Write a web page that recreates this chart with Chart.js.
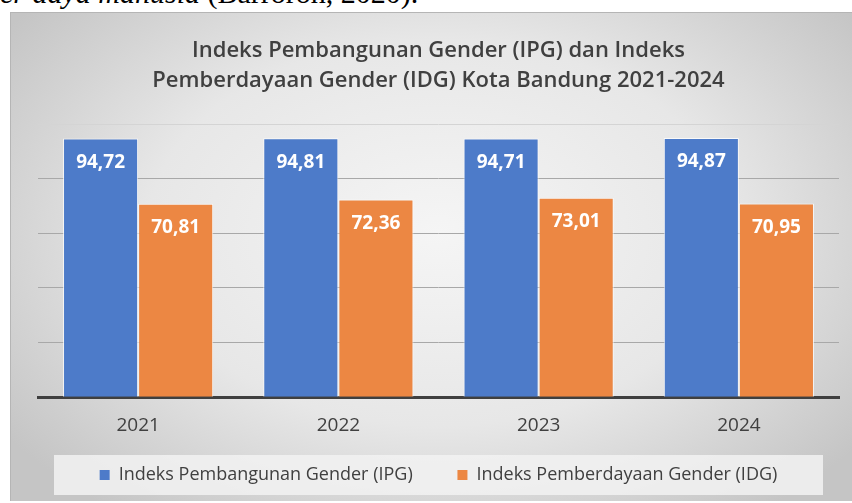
<!DOCTYPE html>
<html>
<head>
<meta charset="utf-8">
<script src="https://cdn.jsdelivr.net/npm/chart.js@4/dist/chart.umd.min.js"></script>
<style>
  html, body { margin: 0; padding: 0; background: #ffffff; width: 852px; height: 503px; overflow: hidden; position: relative; }
  #topText { position: absolute; left: 0; top: -24px; font-family: "Liberation Serif", "DejaVu Serif", serif; font-size: 30px; color: #000; white-space: nowrap; line-height: 34px; }
  #box { position: absolute; left: 10px; top: 12px; width: 855px; height: 489px;
         background: radial-gradient(ellipse 62% 72% at 50% 45%, #f5f5f5 0%, #e7e7e7 55%, #c5c5c5 100%);
         border-top: 1px solid #b5b5b5; border-left: 1px solid #b5b5b5; box-sizing: border-box; }
  #wrap { position: absolute; left: 0; top: 0; width: 855px; height: 489px; }
</style>
</head>
<body>
<div id="topText"><i>er daya manusia</i> (Barroroh, 2020).</div>
<div id="box"><div id="wrap"><canvas id="c"></canvas></div></div>
<script>
const titleLines = ["Indeks Pembangunan Gender (IPG) dan Indeks", "Pemberdayaan Gender (IDG) Kota Bandung 2021-2024"];
const years = ["2021", "2022", "2023", "2024"];
const ipgValues = [94.72, 94.81, 94.71, 94.87];
const idgValues = [70.81, 72.36, 73.01, 70.95];
const seriesNames = ["Indeks Pembangunan Gender (IPG)", "Indeks Pemberdayaan Gender (IDG)"];

const FONT = "'Open Sans', Lato, sans-serif";

const legendBg = {
  id: 'legendBg',
  beforeDraw(chart) {
    const lg = chart.legend, ca = chart.chartArea, ctx = chart.ctx;
    if (!lg || !lg.legendHitBoxes || !lg.legendHitBoxes.length) return;
    const hb = lg.legendHitBoxes[0];
    const cy = hb.top + hb.height / 2;
    const inset = 16;
    ctx.save();
    ctx.fillStyle = 'rgba(242,242,242,0.85)';
    ctx.fillRect(ca.left + inset, cy - 20, (ca.right - ca.left) - 2 * inset, 40);
    ctx.restore();
  }
};

const valueLabels = {
  id: 'valueLabels',
  afterDatasetsDraw(chart) {
    const ctx = chart.ctx;
    ctx.save();
    ctx.font = "bold 19px " + FONT;
    ctx.fillStyle = '#ffffff';
    ctx.textAlign = 'center';
    ctx.textBaseline = 'middle';
    chart.data.datasets.forEach((ds, di) => {
      chart.getDatasetMeta(di).data.forEach((el, i) => {
        const txt = ds.data[i].toFixed(2).replace('.', ',');
        ctx.fillText(txt, el.x, el.y + 24);
      });
    });
    ctx.restore();
  }
};

new Chart(document.getElementById('c'), {
  type: 'bar',
  data: {
    labels: years,
    datasets: [
      { label: seriesNames[0], data: ipgValues, backgroundColor: '#4d7bc9', borderColor: 'rgba(255,255,255,0.75)', borderWidth: 1 },
      { label: seriesNames[1], data: idgValues, backgroundColor: '#ec8743', borderColor: 'rgba(255,255,255,0.75)', borderWidth: 1 }
    ]
  },
  options: {
    responsive: true,
    maintainAspectRatio: false,
    animation: false,
    layout: { padding: { left: 27, right: 27, top: 0, bottom: 8 } },
    datasets: { bar: { categoryPercentage: 0.75, barPercentage: 1.0 } },
    scales: {
      x: {
        grid: { display: false, drawTicks: false },
        border: { display: true, color: '#3f3f3f', width: 3 },
        ticks: { color: '#404040', font: { family: FONT, size: 19, lineHeight: 1.3 }, padding: 16 }
      },
      y: {
        min: 0, max: 100,
        ticks: { display: false, stepSize: 20 },
        border: { display: false },
        grid: {
          drawTicks: false,
          color: (c) => c.tick && c.tick.value === 100 ? '#d4d4d4' : '#a8a8a8',
          lineWidth: 1
        }
      }
    },
    plugins: {
      title: {
        display: true,
        text: titleLines,
        color: '#404040',
        font: { family: FONT, size: 22, weight: '600', lineHeight: 1.364 },
        padding: { top: 23, bottom: 28 }
      },
      legend: {
        position: 'bottom',
        labels: {
          color: '#404040',
          font: { family: FONT, size: 18 },
          boxWidth: 10, boxHeight: 10,
          padding: 12,
          generateLabels(chart) {
            const items = Chart.defaults.plugins.legend.labels.generateLabels(chart);
            items.forEach((it, i) => {
              it.lineWidth = 0;
              if (i === 0) it.text = it.text + '\u00a0\u00a0\u00a0\u00a0\u00a0\u00a0\u00a0';
            });
            return items;
          }
        }
      },
      tooltip: { enabled: false }
    }
  },
  plugins: [legendBg, valueLabels]
});
</script>
</body>
</html>
